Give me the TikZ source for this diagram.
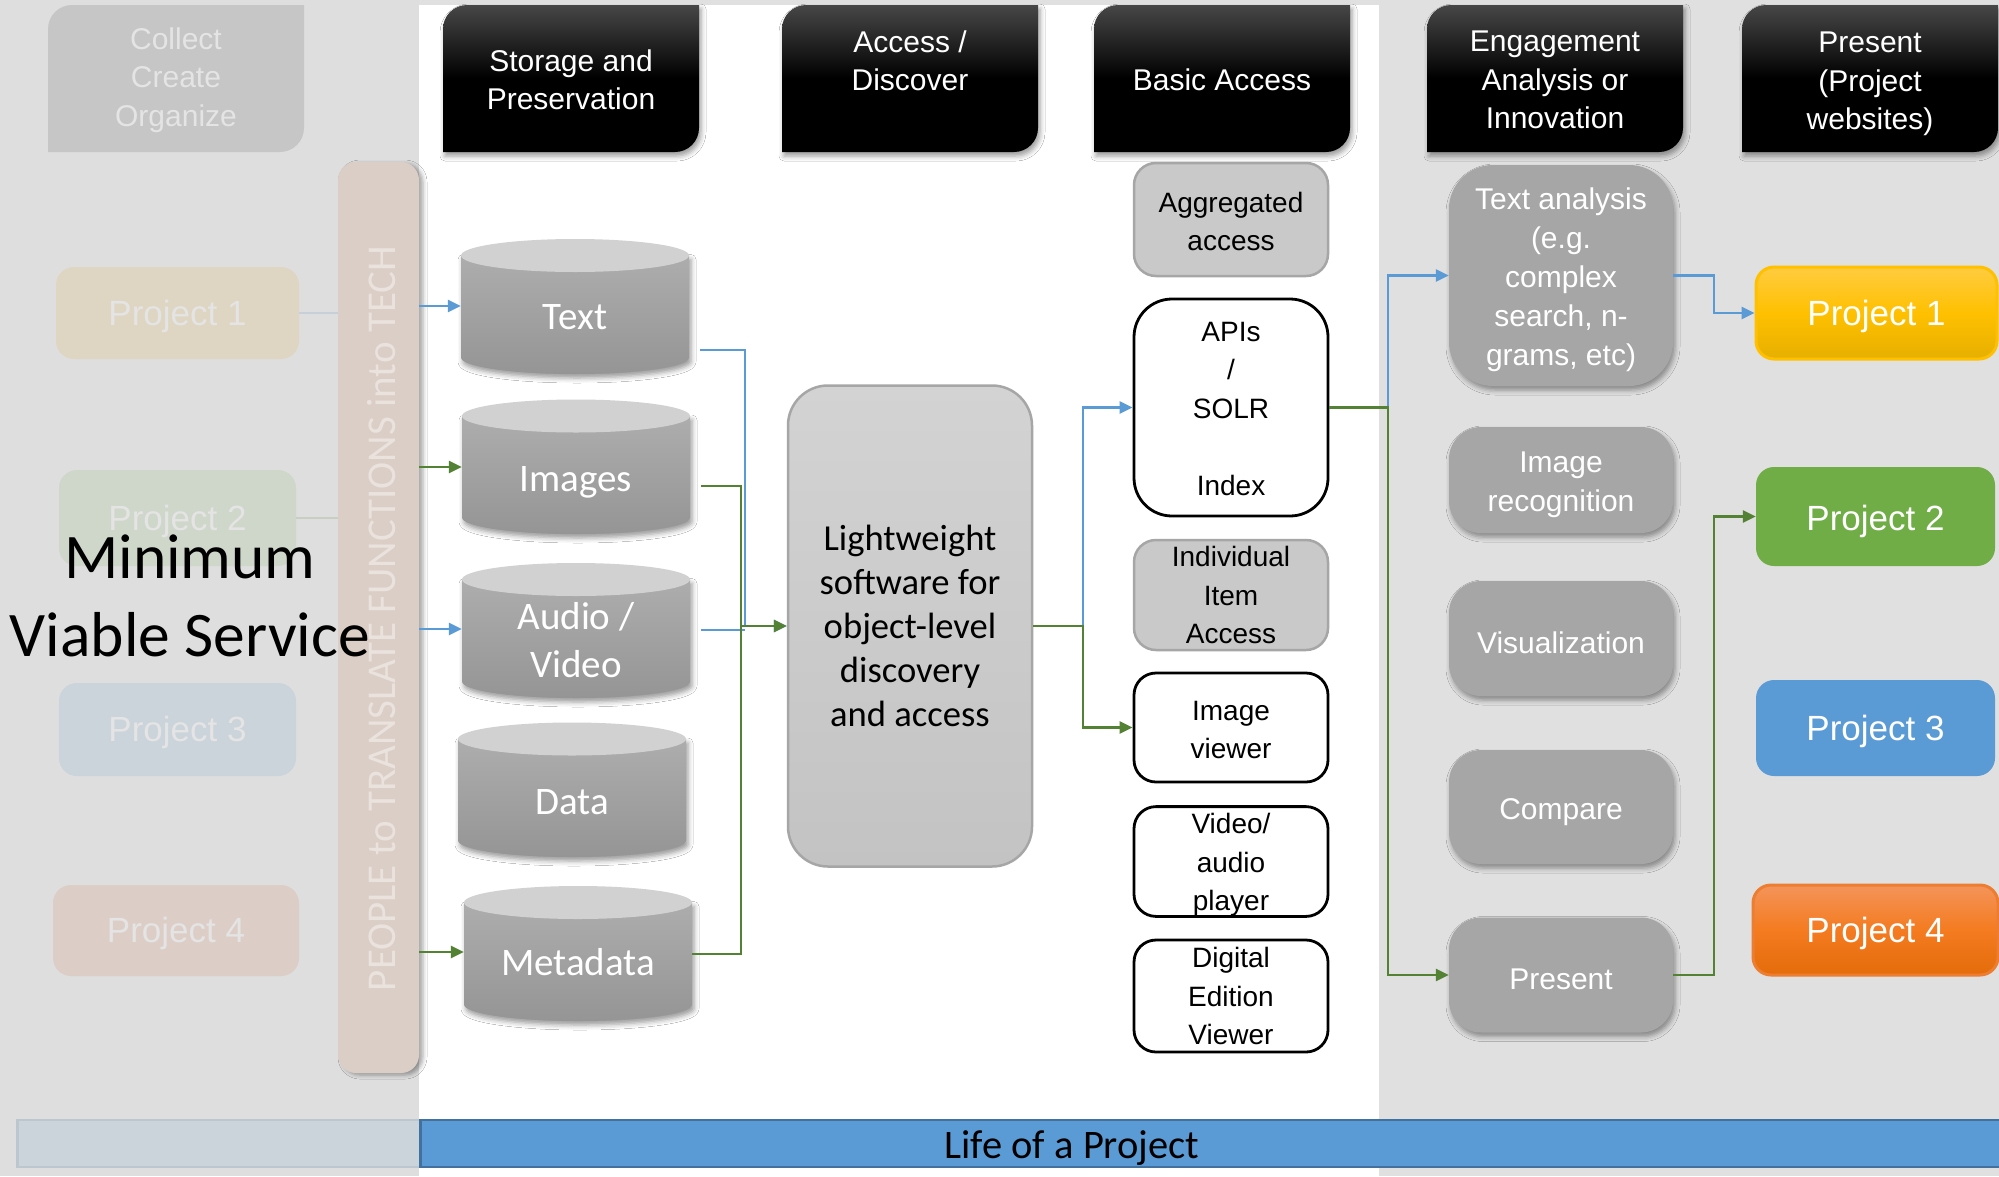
\documentclass[tikz,border=0pt]{standalone}
\usepackage{fontspec}
\setmainfont{Liberation Sans}
\newfontfamily\calfont{Carlito}
\usetikzlibrary{arrows.meta,shadows.blur}

\definecolor{panelL}{HTML}{DEDEDE}
\definecolor{panelR}{HTML}{E0E0E0}
\definecolor{lnblue}{HTML}{5B9BD5}
\definecolor{lngreen}{HTML}{548235}
\definecolor{hdrtop}{HTML}{474747}
\definecolor{cylA}{HTML}{ADADAD}
\definecolor{cylB}{HTML}{959595}
\definecolor{cylC}{HTML}{D1D1D1}
\definecolor{lwA}{HTML}{D3D3D3}
\definecolor{lwB}{HTML}{C3C3C3}
\definecolor{edgegray}{HTML}{A6A6A6}
\definecolor{lightgray}{HTML}{C9C9C9}
\definecolor{enggray}{HTML}{A6A6A6}
\definecolor{fadebox}{HTML}{C6C6C6}
\definecolor{fadetext}{HTML}{E4E4E4}
\definecolor{fade1}{HTML}{DED6C2}
\definecolor{fade2}{HTML}{CFD7CA}
\definecolor{fade3}{HTML}{CBD3DB}
\definecolor{fade4}{HTML}{DCCEC6}
\definecolor{fadepeach}{HTML}{DBCEC6}
\definecolor{peopletext}{HTML}{EAE2DD}
\definecolor{fadeblueline}{HTML}{C5D0DA}
\definecolor{fadegreenline}{HTML}{C6CFC1}
\definecolor{lifefill}{HTML}{5B9BD5}
\definecolor{lifeedge}{HTML}{41719C}
\definecolor{lifefadefill}{HTML}{CBD3DB}
\definecolor{lifefadeedge}{HTML}{BCC6CF}
\definecolor{p1top}{HTML}{FFCC40}
\definecolor{p1mid}{HTML}{FFC000}
\definecolor{p1bot}{HTML}{E6AF00}
\definecolor{p2}{HTML}{70AD47}
\definecolor{p3}{HTML}{5B9BD5}
\definecolor{p4top}{HTML}{F4945A}
\definecolor{p4mid}{HTML}{F47B20}
\definecolor{p4bot}{HTML}{E46C0A}
\definecolor{p4edge}{HTML}{ED7D31}

% box with rounded top-left and bottom-right corners: options, left, top, right, bottom, radius
\newcommand\diagshape[6]{%
  \path[#1] (#2,#5) -- (#2,#3+#6)
    .. controls (#2,#3+0.448*#6) and (#2+0.448*#6,#3) .. (#2+#6,#3)
    -- (#4,#3) -- (#4,#5-#6)
    .. controls (#4,#5-0.448*#6) and (#4-0.448*#6,#5) .. (#4-#6,#5) -- cycle;}

% database cylinder: name, centre x, top ellipse y, bottom ellipse y, label, label y
\newcommand\dbcyl[6]{%
  \path[cylbody] (#2-114,#3) -- (#2-114,#4)
    .. controls (#2-114,#4+9.1) and (#2-63,#4+16.5) .. (#2,#4+16.5)
    .. controls (#2+63,#4+16.5) and (#2+114,#4+9.1) .. (#2+114,#4)
    -- (#2+114,#3) -- cycle;
  \fill[cyltop] (#2,#3) ellipse [x radius=114, y radius=16.5];
  \node[cylnode, minimum height={#4-#3+33}] (#1) at (#2,{(#3+#4)/2}) {};
  \node[cyllabel] (#1-label) at (#2,#6) {#5};}

% taller first line, pushes a text block down inside its box
\newcommand\lift[1]{\rule{0pt}{#1pt}}

\begin{document}
\begin{tikzpicture}[x=1pt, y=-1pt,
  line/.style={line width=2.6pt},
  bl/.style={line, draw=lnblue},
  gr/.style={line, draw=lngreen},
  arr/.style={-{Triangle[length=13pt,width=12pt]}},
  softshadow/.style={blur shadow={shadow xshift=2pt, shadow yshift=-4pt, shadow blur radius=5pt, shadow opacity=40}},
  hdrfill/.style={top color=hdrtop, bottom color=black, middle color=black, softshadow},
  hdrtext/.style={text=white, align=center, inner sep=0pt, font=\fontsize{30pt}{38.5pt}\selectfont},
  cylbody/.style={top color=cylA, bottom color=cylB, softshadow},
  cyltop/.style={fill=cylC},
  cylnode/.style={inner sep=0pt, minimum width=228pt},
  cyllabel/.style={text=white, align=center, inner sep=0pt, font=\calfont\fontsize{39pt}{48pt}\selectfont},
  basic/.style={rounded corners=22pt, minimum width=194pt, inner sep=0pt, align=center, font=\fontsize{28pt}{38.5pt}\selectfont},
  basicgray/.style={basic, draw=edgegray, fill=lightgray, line width=2.5pt},
  basicwhite/.style={basic, draw=black, fill=white, line width=2.8pt},
  eng/.style={rounded corners=32pt, fill=enggray, minimum width=224pt, inner sep=0pt, text=white, align=center, font=\fontsize{30pt}{39pt}\selectfont, softshadow},
  proj/.style={rounded corners=18pt, minimum width=241pt, inner sep=0pt, text=white, font=\fontsize{35pt}{42pt}\selectfont},
  fadeproj/.style={proj, text=fadetext},
]
\useasboundingbox (0,0) rectangle (1999,1176);

% panels
\fill[white] (0,0) rectangle (1999,1176);
\fill[panelL] (0,0) rectangle (419,1176);
\fill[panelR] (1379,0) rectangle (1999,1176);
\fill[panelR] (419,0) rectangle (1379,5);

% faded left column
\diagshape{fill=fadebox}{48}{5}{304}{152}{24}
\node[hdrtext, text=fadetext] (collect) at (176,80) {Collect\\Create\\Organize};

\node[fadeproj, fill=fade1, minimum width=243pt, minimum height=92pt] (fp1) at (177.5,313) {\lift{32}Project 1};
\node[fadeproj, fill=fade2, minimum width=237pt, minimum height=96pt] (fp2) at (177.5,518) {\lift{32}Project 2};
\node[fadeproj, fill=fade3, minimum width=237pt, minimum height=93pt] (fp3) at (177.5,729.5) {\lift{32}Project 3};
\node[fadeproj, fill=fade4, minimum width=246pt, minimum height=91pt] (fp4) at (176,930.5) {\lift{32}Project 4};

\coordinate (barleft) at (338,0);
\draw[line, draw=fadeblueline] (fp1.east) -- (barleft |- fp1.east);
\draw[line, draw=fadegreenline] (fp2.east) -- (barleft |- fp2.east);

\node[fill=fadepeach, rounded corners=18pt, minimum width=81pt, minimum height=911pt, inner sep=0pt,
      blur shadow={shadow xshift=4pt, shadow yshift=-2pt, shadow blur radius=4pt, shadow opacity=35}] (people) at (378.5,617.5) {};
\node[rotate=90, anchor=base, text=peopletext, inner sep=0pt, font=\calfont\fontsize{41pt}{49pt}\selectfont] (peoplelabel) at (395,618.5) {PEOPLE to TRANSLATE FUNCTIONS into TECH};

% column headers
\diagshape{hdrfill}{443}{5}{699}{152}{24}
\node[hdrtext] (hstore) at (571,80) {Storage and\\Preservation};
\diagshape{hdrfill}{782}{5}{1038}{152}{24}
\node[hdrtext] (haccess) at (910,61) {Access /\\Discover};
\diagshape{hdrfill}{1094}{5}{1350}{152}{24}
\node[hdrtext] (hbasic) at (1222,80) {Basic Access};
\diagshape{hdrfill}{1427}{5}{1683}{152}{24}
\node[hdrtext] (hengage) at (1555,80) {Engagement\\Analysis or\\Innovation};
\diagshape{hdrfill}{1742}{5}{1998}{152}{24}
\node[hdrtext] (hpresent) at (1870,84) {Present\\(Project\\websites)};

% storage cylinders
\dbcyl{textdb}{575}{255.5}{357.5}{Text}{317}
\dbcyl{imgdb}{576}{416}{517.5}{Images}{482}
\dbcyl{avdb}{576}{579.5}{681.5}{Audio /\\Video}{640}
\dbcyl{datadb}{572}{739}{840.5}{Data}{802}
\dbcyl{metadb}{578}{902.5}{1004.5}{Metadata}{962}

% discovery layer
\node[draw=edgegray, line width=2.5pt, top color=lwA, bottom color=lwB, rounded corners=40pt,
      minimum width=244pt, minimum height=481pt, inner sep=0pt, align=center,
      font=\calfont\fontsize{36.6pt}{44pt}\selectfont] (lw) at (910,626)
      {Lightweight\\software for\\object-level\\discovery\\and access};

% basic access column
\node[basicgray, minimum height=113pt] (agg) at (1231,219.5) {\lift{24}Aggregated\\access};
\node[basicwhite, rounded corners=38pt, minimum height=217pt] (apis) at (1231,407.5) {\lift{22}APIs\\/\\SOLR\\\strut\\Index};
\node[basicgray, minimum height=110pt] (indiv) at (1231,595) {Individual\\Item\\Access};
\node[basicwhite, minimum height=109pt] (imgview) at (1231,727.5) {\lift{24}Image\\viewer};
\node[basicwhite, minimum height=109pt] (player) at (1231,861.5) {\lift{27}Video/\\audio\\player};
\node[basicwhite, minimum height=112pt] (edition) at (1231,996) {Digital\\Edition\\Viewer};

% engagement column
\node[eng, rounded corners=44pt, minimum height=221pt] (ta) at (1561,275.5) {\lift{31}Text analysis\\(e.g.\\complex\\search, n-\\grams, etc)};
\node[eng, minimum height=106pt] (imgrec) at (1561,480) {\lift{31}Image\\recognition};
\node[eng, minimum height=115pt] (vis) at (1561,638.5) {\lift{30}Visualization};
\node[eng, minimum height=114pt] (cmp) at (1561,807) {\lift{32}Compare};
\node[eng, minimum height=115pt] (pres) at (1561,975) {\lift{29}Present};

% project websites
\node[proj, draw=p1mid, line width=3pt, top color=p1top, bottom color=p1bot, middle color=p1mid, minimum height=92pt] (pr1) at (1876.5,313) {\lift{32}Project 1};
\node[proj, fill=p2, minimum width=239pt, minimum height=99pt] (pr2) at (1875.5,516.5) {\lift{35}Project 2};
\node[proj, fill=p3, minimum width=239pt, minimum height=96pt] (pr3) at (1875.5,728) {\lift{32}Project 3};
\node[proj, draw=p4edge, line width=3pt, top color=p4top, bottom color=p4bot, middle color=p4mid, minimum width=245pt, minimum height=90pt] (pr4) at (1875.5,930) {\lift{32}Project 4};

% connector buses
\coordinate (busA) at (745,0);
\coordinate (busG) at (741,0);
\coordinate (busB) at (1083,0);
\coordinate (busC) at (1388,0);
\coordinate (busD) at (1714,0);

% people -> storage
\draw[bl, arr] (people.east |- 0,306) -- (textdb.west |- 0,306);
\draw[gr, arr] (people.east |- 0,467) -- (imgdb.west |- 0,467);
\draw[bl, arr] (people.east |- 0,629) -- (avdb.west |- 0,629);
\draw[gr, arr] (people.east |- 0,952) -- (metadb.west |- 0,952);

% storage -> discovery
\draw[bl, arr] (textdb.east |- 0,350) ++(11,0) -- (busA |- 0,350) |- (lw.west);
\draw[bl] (avdb.east |- 0,630) ++(11,0) -- (busA |- 0,630);
\draw[gr] (imgdb.east |- 0,486) ++(11,0) -- (busG |- 0,486) -- (busG |- 0,954) -- (metadb.east |- 0,954);
\draw[gr, arr] (busG |- lw.west) -- (lw.west);

% discovery -> basic access
\draw[bl, arr] (lw.east) -- (busB |- lw.east) |- (apis.west);
\draw[gr, arr] (lw.east) -- (busB |- lw.east) |- (imgview.west);

% basic access -> engagement
\draw[bl, arr] (apis.east) -- (busC |- apis.east) |- (ta.west);
\draw[gr, arr] (apis.east) -- (busC |- apis.east) |- (pres.west);

% engagement -> projects
\draw[bl, arr] (ta.east) -- (busD |- ta.east) |- (pr1.west);
\draw[gr, arr] (pres.east) -- (busD |- pres.east) |- (pr2.west);

% timeline bar
\node[draw=lifefadeedge, fill=lifefadefill, line width=2.5pt, minimum width=403pt, minimum height=47pt, inner sep=0pt, anchor=west] (lifefade) at (16,1143.5) {};
\node[draw=lifeedge, fill=lifefill, line width=2.5pt, minimum width=1600pt, minimum height=47pt, inner sep=0pt, anchor=west] (lifebar) at (419,1143.5) {};
\node[inner sep=0pt, font=\calfont\fontsize{40.5pt}{48pt}\selectfont] (lifelabel) at (1072,1148) {Life of a Project};

% overlay title
\node[inner sep=0pt, align=center, font=\calfont\fontsize{63.5pt}{78pt}\selectfont] (mvs) at (190,596) {Minimum\\Viable Service};
\end{tikzpicture}
\end{document}
